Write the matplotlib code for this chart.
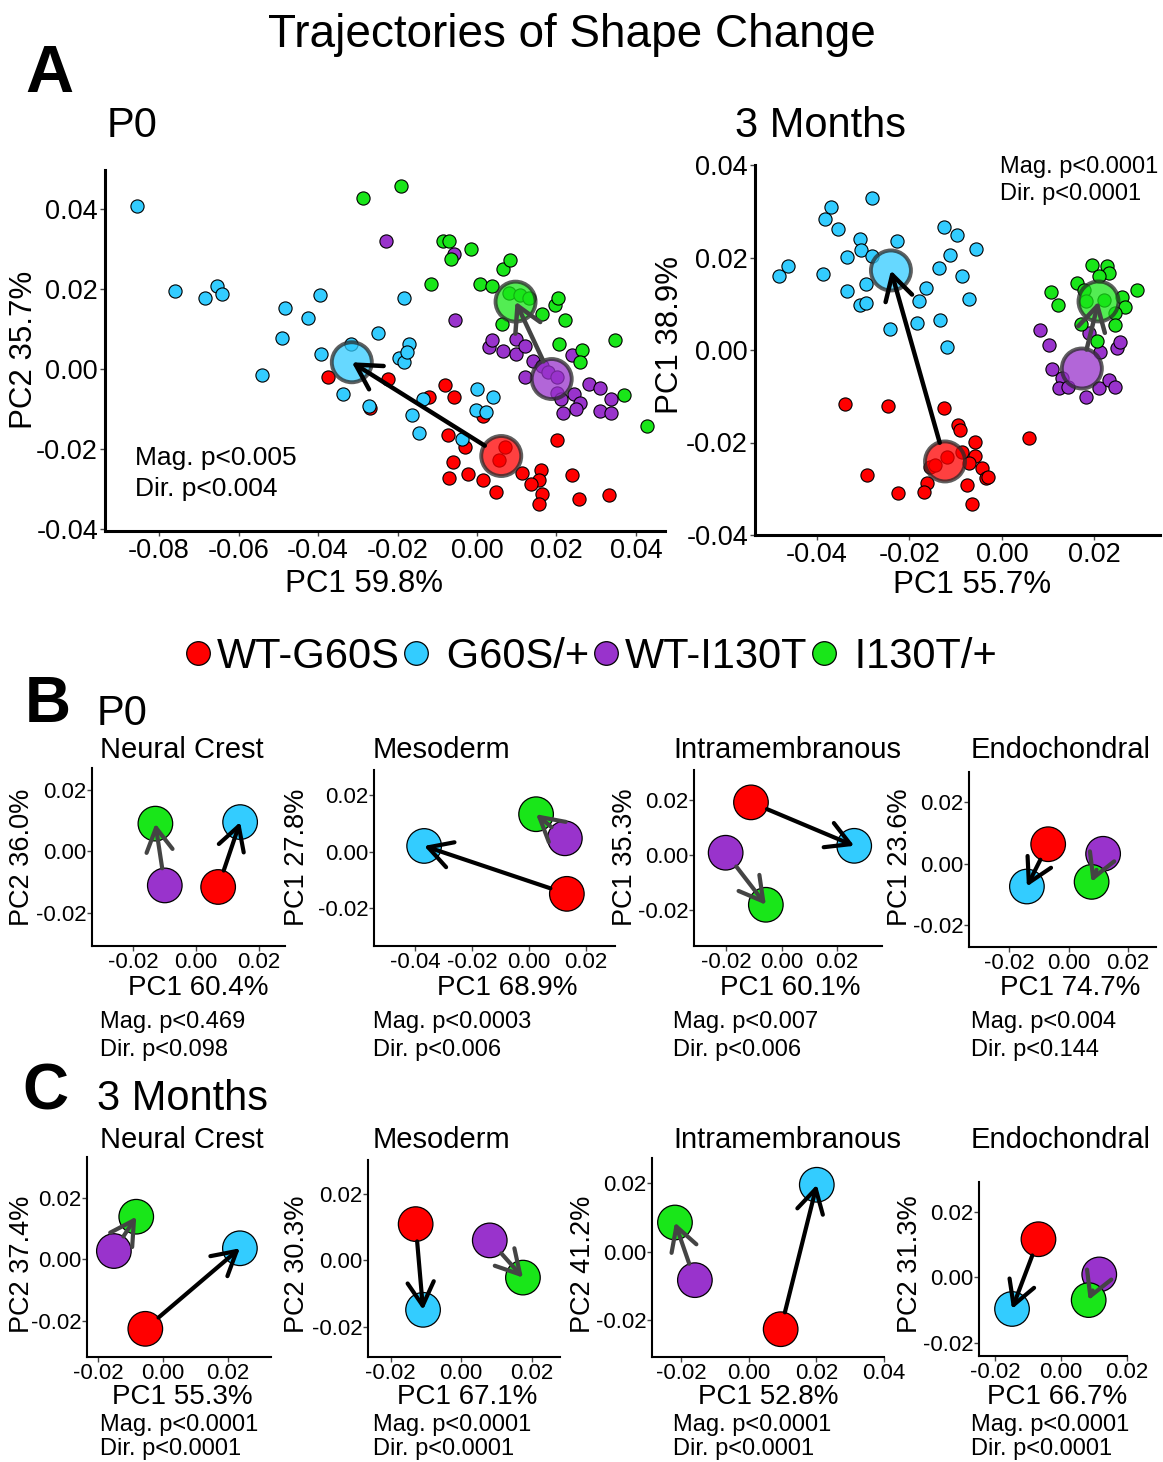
import numpy as np
import matplotlib
matplotlib.use('Agg')
import matplotlib.pyplot as plt
from matplotlib.lines import Line2D

plt.rcParams['font.family'] = ['Liberation Sans', 'DejaVu Sans']
plt.rcParams['axes.unicode_minus'] = False

groups = ['WT-G60S', 'G60S/+', 'WT-I130T', 'I130T/+']
colors = ['#ff0000', '#33ccff', '#9933cc', '#19e619']

# ---- panel A, P0 specimens (PC1, PC2)
p0_red_x = [-0.0374, -0.0223, -0.0268, -0.0080, -0.0059, -0.0122, -0.0072, -0.0030, -0.0061, -0.0070,
            -0.0023, 0.0014, 0.0047, 0.0014, 0.0070, 0.0056, 0.0113, 0.0160, 0.0155, 0.0136,
            0.0164, 0.0155, 0.0202, 0.0239, 0.0256, 0.0333]
p0_red_y = [-0.0021, -0.0024, -0.0097, -0.0039, -0.0070, -0.0070, -0.0166, -0.0195, -0.0233, -0.0272,
            -0.0262, -0.0279, -0.0307, -0.0117, -0.0195, -0.0228, -0.0260, -0.0254, -0.0279, -0.0288,
            -0.0313, -0.0338, -0.0178, -0.0265, -0.0326, -0.0317]
p0_cyan_x = [-0.0856, -0.0761, -0.0684, -0.0655, -0.0641, -0.0484, -0.0490, -0.0425, -0.0396, -0.0392,
             -0.0542, -0.0316, -0.0249, -0.0183, -0.0172, -0.0197, -0.0183, -0.0176, -0.0338, -0.0272,
             -0.0164, -0.0146, -0.0136, -0.0038, 0.0000, 0.0040, -0.0003, 0.0022]
p0_cyan_y = [0.0408, 0.0196, 0.0178, 0.0207, 0.0188, 0.0154, 0.0078, 0.0127, 0.0186, 0.0038,
             -0.0015, 0.0063, 0.0090, 0.0178, 0.0063, 0.0027, 0.0017, 0.0042, -0.0062, -0.0093,
             -0.0116, -0.0161, -0.0074, -0.0176, -0.0049, -0.0069, -0.0103, -0.0108]
p0_purple_x = [-0.0230, -0.0059, -0.0056, 0.0031, 0.0038, 0.0066, 0.0097, 0.0099, 0.0122, 0.0141,
               0.0122, 0.0164, 0.0178, 0.0202, 0.0202, 0.0211, 0.0239, 0.0244, 0.0258, 0.0249,
               0.0282, 0.0310, 0.0338, 0.0310, 0.0338, 0.0216]
p0_purple_y = [0.0320, 0.0288, 0.0123, 0.0055, 0.0072, 0.0044, 0.0038, 0.0076, 0.0059, 0.0021,
               -0.0021, 0.0008, -0.0008, -0.0021, -0.0059, -0.0076, 0.0034, -0.0063, -0.0085, -0.0101,
               -0.0038, -0.0047, -0.0076, -0.0106, -0.0110, -0.0110]
p0_green_x = [-0.0286, -0.0190, -0.0085, -0.0070, -0.0066, -0.0016, -0.0115, 0.0008, 0.0038, 0.0066,
              0.0082, 0.0080, 0.0108, 0.0131, 0.0164, 0.0197, 0.0204, 0.0221, 0.0063, 0.0207,
              0.0263, 0.0260, 0.0347, 0.0369, 0.0427]
p0_green_y = [0.0430, 0.0458, 0.0320, 0.0320, 0.0275, 0.0300, 0.0213, 0.0213, 0.0209, 0.0251,
              0.0273, 0.0190, 0.0186, 0.0178, 0.0137, 0.0161, 0.0178, 0.0124, 0.0112, 0.0063,
              0.0047, 0.0017, 0.0074, -0.0066, -0.0142]
p0_mean_x = [0.0061, -0.0315, 0.0188, 0.0097]
p0_mean_y = [-0.0218, 0.0017, -0.0025, 0.0169]

# ---- panel A, 3 months specimens
m3_red_x = [-0.0339, -0.0247, -0.0292, -0.0225, -0.0125, -0.0095, -0.0090, -0.0058, -0.0059, -0.0071,
            -0.0043, -0.0035, -0.0029, -0.0076, -0.0065, -0.0162, -0.0168, -0.0155, -0.0087, 0.0058,
            -0.0144, -0.0119]
m3_red_y = [-0.0117, -0.0121, -0.0270, -0.0310, -0.0125, -0.0162, -0.0173, -0.0198, -0.0229, -0.0245,
            -0.0256, -0.0277, -0.0274, -0.0292, -0.0333, -0.0288, -0.0308, -0.0252, -0.0220, -0.0191,
            -0.0249, -0.0231]
m3_cyan_x = [-0.0482, -0.0462, -0.0387, -0.0383, -0.0370, -0.0355, -0.0336, -0.0336, -0.0307, -0.0305,
             -0.0280, -0.0280, -0.0294, -0.0307, -0.0294, -0.0243, -0.0227, -0.0179, -0.0183, -0.0164,
             -0.0135, -0.0134, -0.0119, -0.0126, -0.0097, -0.0112, -0.0087, -0.0072, -0.0056]
m3_cyan_y = [0.0159, 0.0182, 0.0164, 0.0283, 0.0310, 0.0261, 0.0202, 0.0127, 0.0241, 0.0216,
             0.0203, 0.0329, 0.0142, 0.0098, 0.0101, 0.0045, 0.0236, 0.0105, 0.0059, 0.0135,
             0.0177, 0.0065, 0.0006, 0.0267, 0.0249, 0.0205, 0.0161, 0.0110, 0.0218]
m3_purple_x = [0.0083, 0.0101, 0.0108, 0.0130, 0.0123, 0.0144, 0.0181, 0.0209, 0.0231, 0.0245,
               0.0249, 0.0256, 0.0188, 0.0213]
m3_purple_y = [0.0043, 0.0011, -0.0040, -0.0061, -0.0083, -0.0081, -0.0101, -0.0083, -0.0065, -0.0079,
               0.0004, 0.0018, 0.0036, -0.0004]
m3_green_x = [0.0107, 0.0121, 0.0162, 0.0177, 0.0195, 0.0227, 0.0231, 0.0209, 0.0292, 0.0260,
              0.0267, 0.0245, 0.0245, 0.0172, 0.0206, 0.0181, 0.0220]
m3_green_y = [0.0126, 0.0097, 0.0144, 0.0130, 0.0184, 0.0182, 0.0166, 0.0159, 0.0130, 0.0115,
              0.0094, 0.0079, 0.0054, 0.0056, 0.0020, 0.0105, 0.0108]
m3_mean_x = [-0.0123, -0.0240, 0.0173, 0.0209]
m3_mean_y = [-0.0241, 0.0172, -0.0040, 0.0105]

# ---- panels B / C: group means, order = groups
b_nc_x = [0.0070, 0.0140, -0.0100, -0.0130]
b_nc_y = [-0.0115, 0.0095, -0.0110, 0.0090]
b_meso_x = [0.0133, -0.0368, 0.0126, 0.0025]
b_meso_y = [-0.0149, 0.0020, 0.0047, 0.0132]
b_intra_x = [-0.0111, 0.0264, -0.0203, -0.0057]
b_intra_y = [0.0190, 0.0033, 0.0008, -0.0180]
b_endo_x = [-0.0069, -0.0141, 0.0117, 0.0078]
b_endo_y = [0.0063, -0.0074, 0.0032, -0.0059]
c_nc_x = [-0.0054, 0.0238, -0.0151, -0.0082]
c_nc_y = [-0.0227, 0.0036, 0.0027, 0.0139]
c_meso_x = [-0.0129, -0.0108, 0.0081, 0.0175]
c_meso_y = [0.0109, -0.0149, 0.0060, -0.0052]
c_intra_x = [0.0094, 0.0201, -0.0160, -0.0219]
c_intra_y = [-0.0226, 0.0195, -0.0083, 0.0085]
c_endo_x = [-0.0068, -0.0148, 0.0116, 0.0084]
c_endo_y = [0.0116, -0.0096, 0.0009, -0.0069]

regions = ['Neural Crest', 'Mesoderm', 'Intramembranous', 'Endochondral']
b_xlabels = ['PC1 60.4%', 'PC1 68.9%', 'PC1 60.1%', 'PC1 74.7%']
b_ylabels = ['PC2 36.0%', 'PC1 27.8%', 'PC1 35.3%', 'PC1 23.6%']
b_mag = ['0.469', '0.0003', '0.007', '0.004']
b_dir = ['0.098', '0.006', '0.006', '0.144']
c_xlabels = ['PC1 55.3%', 'PC1 67.1%', 'PC1 52.8%', 'PC1 66.7%']
c_ylabels = ['PC2 37.4%', 'PC2 30.3%', 'PC2 41.2%', 'PC2 31.3%']
c_mag = ['0.0001', '0.0001', '0.0001', '0.0001']
c_dir = ['0.0001', '0.0001', '0.0001', '0.0001']

W, H = 1163, 1462


def rect(l, r, t, b):
    return [l / W, 1 - b / H, (r - l) / W, (b - t) / H]


def ftext(x, y, s, **kw):
    fig.text(x / W, 1 - y / H, s, **kw)


def style_axes(ax, lw, size, pad):
    for side in ['top', 'right']:
        ax.spines[side].set_visible(False)
    for side in ['left', 'bottom']:
        ax.spines[side].set_linewidth(lw)
    ax.tick_params(labelsize=size, length=3.5, width=1, color='#444444', pad=pad)
    ax.yaxis.set_major_formatter(matplotlib.ticker.FormatStrFormatter('%.2f'))
    ax.xaxis.set_major_formatter(matplotlib.ticker.FormatStrFormatter('%.2f'))


def arrow(ax, x, y, i, j, col, lw, shrink, scale):
    ax.annotate('', xy=(x[j], y[j]), xytext=(x[i], y[i]),
                arrowprops=dict(arrowstyle='->,head_length=0.8,head_width=0.45', color=col, lw=lw,
                                shrinkA=shrink, shrinkB=0, mutation_scale=scale), zorder=6)


fig = plt.figure(figsize=(W / 100, H / 100), dpi=100)

# ---------------- panel A
ftext(572, 47, 'Trajectories of Shape Change', fontsize=33, ha='center', va='baseline')
ftext(25, 92, 'A', fontsize=48, fontweight='bold', va='baseline')
ftext(107, 137, 'P0', fontsize=30, va='baseline')
ftext(735, 137, '3 Months', fontsize=30, va='baseline')

big = [
    dict(r=(105, 665, 170, 531), xl=(-0.0936, 0.0473), yl=(-0.0406, 0.0499),
         xt=[-0.08, -0.06, -0.04, -0.02, 0.0, 0.02, 0.04],
         pts=[(p0_red_x, p0_red_y), (p0_cyan_x, p0_cyan_y), (p0_purple_x, p0_purple_y), (p0_green_x, p0_green_y)],
         mx=p0_mean_x, my=p0_mean_y),
    dict(r=(755, 1160, 165, 535), xl=(-0.0534, 0.0342), yl=(-0.0400, 0.0400),
         xt=[-0.04, -0.02, 0.0, 0.02],
         pts=[(m3_red_x, m3_red_y), (m3_cyan_x, m3_cyan_y), (m3_purple_x, m3_purple_y), (m3_green_x, m3_green_y)],
         mx=m3_mean_x, my=m3_mean_y),
]
for p in big:
    ax = fig.add_axes(rect(*p['r']))
    for (px, py), c in zip(p['pts'], colors):
        ax.scatter(px, py, s=90, color=c, edgecolor='black', linewidth=0.8, zorder=3)
    ax.scatter(p['mx'], p['my'], s=830, color=colors, alpha=0.75, edgecolor='#2a2a2a',
               linewidth=2.8, zorder=4)
    arrow(ax, p['mx'], p['my'], 0, 1, 'black', 3.2, 14, 22)
    arrow(ax, p['mx'], p['my'], 2, 3, '#444444', 3.2, 14, 22)
    ax.set_xlim(*p['xl'])
    ax.set_ylim(*p['yl'])
    ax.set_xticks(p['xt'])
    ax.set_yticks([-0.04, -0.02, 0.0, 0.02, 0.04])
    style_axes(ax, 2.2, 19.5, 1.5)

ftext(364, 592, 'PC1 59.8%', fontsize=22.5, ha='center', va='baseline')
ftext(24, 350, 'PC2 35.7%', fontsize=22.5, ha='center', va='center', rotation=90)
ftext(135, 465, 'Mag. p<0.005', fontsize=19, va='baseline')
ftext(135, 496, 'Dir. p<0.004', fontsize=19, va='baseline')
ftext(972, 593, 'PC1 55.7%', fontsize=22.5, ha='center', va='baseline')
ftext(670, 335, 'PC1 38.9%', fontsize=22.5, ha='center', va='center', rotation=90)
ftext(1000, 173, 'Mag. p<0.0001', fontsize=17, va='baseline')
ftext(1000, 200, 'Dir. p<0.0001', fontsize=17, va='baseline')

handles = [Line2D([], [], ls='', marker='o', markersize=17, markerfacecolor=c,
                  markeredgecolor='black', markeredgewidth=0.9) for c in colors]
labels = [groups[0], ' ' + groups[1], groups[2], ' ' + groups[3]]
fig.legend(handles, labels, loc='center', bbox_to_anchor=(591 / W, 1 - 657 / H), ncol=4,
           frameon=False, fontsize=30, handlelength=0.6, handletextpad=0.15,
           columnspacing=0.1, borderpad=0, borderaxespad=0)

# ---------------- panels B and C
ftext(25, 722, 'B', fontsize=46, fontweight='bold', va='baseline')
ftext(97, 725, 'P0', fontsize=30, va='baseline')
ftext(22, 1110, 'C', fontsize=46, fontweight='bold', va='baseline')
ftext(97, 1110, '3 Months', fontsize=30, va='baseline')

small = [
    dict(r=(92, 285, 768, 946), xl=(-0.0332, 0.0283), yl=(-0.0306, 0.0270), xt=[-0.02, 0.0, 0.02],
         x=b_nc_x, y=b_nc_y),
    dict(r=(374, 615, 770, 946), xl=(-0.0544, 0.0302), yl=(-0.0333, 0.0288), xt=[-0.04, -0.02, 0.0, 0.02],
         x=b_meso_x, y=b_meso_y),
    dict(r=(694, 882, 770, 946), xl=(-0.0318, 0.0365), yl=(-0.0329, 0.0307), xt=[-0.02, 0.0, 0.02],
         x=b_intra_x, y=b_intra_y),
    dict(r=(969, 1156, 772, 947), xl=(-0.0337, 0.0296), yl=(-0.0270, 0.0297), xt=[-0.02, 0.0, 0.02],
         x=b_endo_x, y=b_endo_y),
    dict(r=(87, 271, 1157, 1357), xl=(-0.0234, 0.0334), yl=(-0.0319, 0.0334), xt=[-0.02, 0.0, 0.02],
         x=c_nc_x, y=c_nc_y),
    dict(r=(368, 560, 1160, 1357), xl=(-0.0264, 0.0280), yl=(-0.0291, 0.0302), xt=[-0.02, 0.0, 0.02],
         x=c_meso_x, y=c_meso_y),
    dict(r=(652, 884, 1158, 1357), xl=(-0.0287, 0.0380), yl=(-0.0307, 0.0273), xt=[-0.02, 0.0, 0.02, 0.04],
         x=c_intra_x, y=c_intra_y),
    dict(r=(979, 1127, 1182, 1356), xl=(-0.0248, 0.0200), yl=(-0.0239, 0.0290), xt=[-0.02, 0.0, 0.02],
         x=c_endo_x, y=c_endo_y),
]
for p in small:
    ax = fig.add_axes(rect(*p['r']))
    ax.scatter(p['x'], p['y'], s=620, color=colors, edgecolor='black', linewidth=0.9, zorder=3)
    arrow(ax, p['x'], p['y'], 0, 1, 'black', 3, 12.5, 21)
    arrow(ax, p['x'], p['y'], 2, 3, '#444444', 3, 12.5, 21)
    ax.set_xlim(*p['xl'])
    ax.set_ylim(*p['yl'])
    ax.set_xticks(p['xt'])
    ax.set_yticks([-0.02, 0.0, 0.02])
    style_axes(ax, 1.5, 16, 0.5)

title_x = [100, 373, 673, 971]
b_xl_cx = [198, 507, 790, 1070]
b_yl_x = [22, 297, 625, 900]
c_xl_cx = [182, 467, 768, 1057]
c_yl_x = [22, 297, 583, 910]
for k in range(4):
    ftext(title_x[k], 758, regions[k], fontsize=21, va='baseline')
    ftext(b_xl_cx[k], 995, b_xlabels[k], fontsize=20, ha='center', va='baseline')
    ftext(b_yl_x[k], 857, b_ylabels[k], fontsize=19.5, ha='center', va='center', rotation=90)
    ftext(title_x[k], 1028, 'Mag. p<' + b_mag[k], fontsize=17, va='baseline')
    ftext(title_x[k], 1056, 'Dir. p<' + b_dir[k], fontsize=17, va='baseline')

    ftext(title_x[k], 1148, regions[k], fontsize=21, va='baseline')
    ftext(c_xl_cx[k], 1404, c_xlabels[k], fontsize=20, ha='center', va='baseline')
    ftext(c_yl_x[k], 1264, c_ylabels[k], fontsize=19.5, ha='center', va='center', rotation=90)
    ftext(title_x[k], 1431, 'Mag. p<' + c_mag[k], fontsize=17, va='baseline')
    ftext(title_x[k], 1455, 'Dir. p<' + c_dir[k], fontsize=17, va='baseline')

fig.savefig('out.png', dpi=100)
